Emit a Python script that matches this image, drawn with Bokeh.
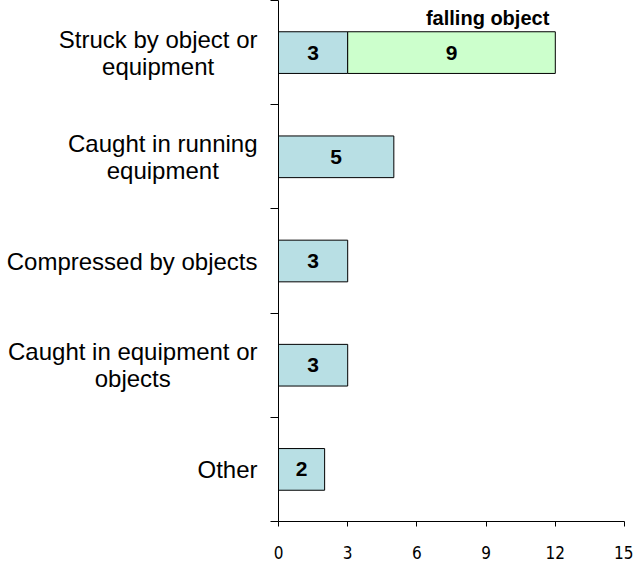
from bokeh.plotting import figure
from bokeh.layouts import row
from bokeh.models import Range1d, FixedTicker, ColumnDataSource
from bokeh.core.properties import value
from bokeh.embed import file_html
from bokeh.resources import INLINE

categories = ["Struck by object or\nequipment", "Caught in running\nequipment",
              "Compressed by objects", "Caught in equipment or\nobjects", "Other"]
base_counts = [3, 5, 3, 3, 2]
falling_counts = [9, 0, 0, 0, 0]
falling_label = "falling object"
x_ticks = [0, 3, 6, 9, 12, 15]

n = len(categories)
ypos = [n - i - 0.5 for i in range(n)]
bar_h = 0.4
H = 561
BOTTOM = 40
LW = 270

yr = Range1d(0, n)

# left panel with category labels
p0 = figure(width=LW, height=H, output_backend="svg", toolbar_location=None,
            x_range=Range1d(0, LW), y_range=yr, x_axis_location=None, y_axis_location=None,
            min_border_left=0, min_border_right=0, min_border_top=0, min_border_bottom=BOTTOM)
p0.outline_line_color = None
p0.grid.visible = False
cat_src = ColumnDataSource(dict(x=[LW - 13] * n, y=ypos, text=categories))
p0.text(x="x", y="y", text="text", source=cat_src, anchor="center_right",
        text_align="center", text_baseline="middle",
        text_font=value("Liberation Sans"), text_font_size="24px",
        text_line_height=1.0, text_color="black")

p = figure(width=633 - LW, height=H, output_backend="svg", toolbar_location=None,
           x_range=Range1d(0, 15), y_range=yr,
           min_border_left=8, min_border_right=9, min_border_top=0, min_border_bottom=BOTTOM)
p.outline_line_color = None
p.grid.visible = False

base_src = ColumnDataSource(dict(
    y=ypos, left=[0] * n, right=base_counts,
    xmid=[b / 2 for b in base_counts], label=[str(b) for b in base_counts]))
p.hbar(y="y", left="left", right="right", height=bar_h, source=base_src,
       fill_color="#B8DFE4", line_color="black", line_width=1)
p.text(x="xmid", y="y", text="label", source=base_src, text_align="center",
       text_baseline="middle", text_font=value("Liberation Sans"),
       text_font_size="21px", text_font_style="bold", text_color="black")

fi = [i for i in range(n) if falling_counts[i] > 0]
fall_src = ColumnDataSource(dict(
    y=[ypos[i] for i in fi], left=[base_counts[i] for i in fi],
    right=[base_counts[i] + falling_counts[i] for i in fi],
    xmid=[base_counts[i] + falling_counts[i] / 2 for i in fi],
    label=[str(falling_counts[i]) for i in fi],
    top=[ypos[i] + bar_h / 2 for i in fi], name=[falling_label for i in fi]))
p.hbar(y="y", left="left", right="right", height=bar_h, source=fall_src,
       fill_color="#CCFFCC", line_color="black", line_width=1)
p.text(x="xmid", y="y", text="label", source=fall_src, text_align="center",
       text_baseline="middle", text_font=value("Liberation Sans"),
       text_font_size="21px", text_font_style="bold", text_color="black")
p.text(x="right", y="top", text="name", source=fall_src, text_align="right",
       text_baseline="bottom", x_offset=-6, y_offset=-3,
       text_font=value("Liberation Sans"), text_font_size="20px",
       text_font_style="bold", text_color="black")

xa = p.xaxis[0]
xa.ticker = FixedTicker(ticks=x_ticks)
xa.minor_tick_line_color = None
xa.major_tick_out = 5
xa.major_tick_in = 0
xa.axis_line_color = "black"
xa.major_tick_line_color = "black"
xa.major_label_standoff = 19
xa.major_label_text_font = "'DejaVu Sans Condensed', 'Liberation Sans'"
xa.major_label_text_font_size = "17px"
xa.major_label_text_color = "black"

ya = p.yaxis[0]
ya.ticker = FixedTicker(ticks=list(range(n + 1)))
ya.minor_tick_line_color = None
ya.major_tick_out = 8
ya.major_tick_in = 0
ya.axis_line_color = "black"
ya.major_tick_line_color = "black"
ya.major_label_overrides = {i: "" for i in range(n + 1)}
ya.major_label_standoff = 0

layout = row(p0, p)
open("out.html", "w").write(file_html(layout, INLINE))
